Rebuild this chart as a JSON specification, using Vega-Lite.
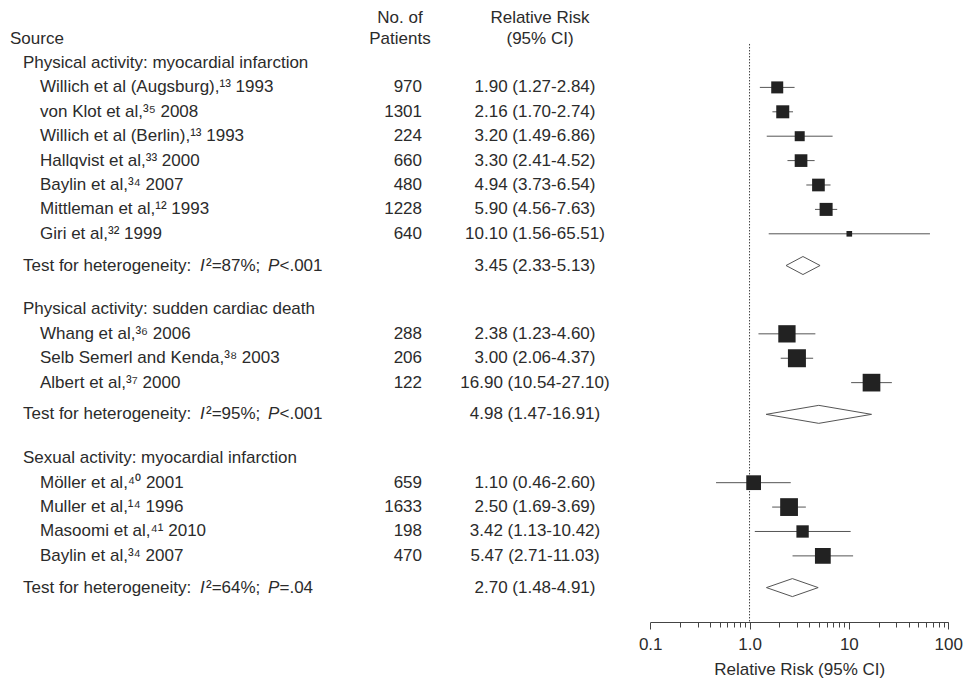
{
  "$schema": "https://vega.github.io/schema/vega-lite/v6.json",
  "width": 967,
  "height": 622,
  "autosize": {"type": "none"},
  "padding": {"left": 0, "top": 0, "right": 0, "bottom": 61},
  "background": "white",
  "config": {
    "view": {"stroke": null},
    "text": {"font": "Liberation Sans", "fontSize": 17, "color": "#2b2b2b"}
  },
  "data": {"values": [
    {"row": 1, "kind": "group", "label": "Physical activity: myocardial infarction"},
    {"row": 2, "kind": "study", "label": "Willich et al (Augsburg),¹³ 1993", "n": 970, "rr": 1.90, "lo": 1.27, "hi": 2.84, "rr_text": "1.90 (1.27-2.84)", "weight": 15.4},
    {"row": 3, "kind": "study", "label": "von Klot et al,³⁵ 2008", "n": 1301, "rr": 2.16, "lo": 1.70, "hi": 2.74, "rr_text": "2.16 (1.70-2.74)", "weight": 18.1},
    {"row": 4, "kind": "study", "label": "Willich et al (Berlin),¹³ 1993", "n": 224, "rr": 3.20, "lo": 1.49, "hi": 6.86, "rr_text": "3.20 (1.49-6.86)", "weight": 10.7},
    {"row": 5, "kind": "study", "label": "Hallqvist et al,³³ 2000", "n": 660, "rr": 3.30, "lo": 2.41, "hi": 4.52, "rr_text": "3.30 (2.41-4.52)", "weight": 17.2},
    {"row": 6, "kind": "study", "label": "Baylin et al,³⁴ 2007", "n": 480, "rr": 4.94, "lo": 3.73, "hi": 6.54, "rr_text": "4.94 (3.73-6.54)", "weight": 17.2},
    {"row": 7, "kind": "study", "label": "Mittleman et al,¹² 1993", "n": 1228, "rr": 5.90, "lo": 4.56, "hi": 7.63, "rr_text": "5.90 (4.56-7.63)", "weight": 18.1},
    {"row": 8, "kind": "study", "label": "Giri et al,³² 1999", "n": 640, "rr": 10.10, "lo": 1.56, "hi": 65.51, "rr_text": "10.10 (1.56-65.51)", "weight": 3.4},
    {"row": 9.3, "kind": "test", "label": "Test for heterogeneity:", "i2": "²=87%;", "p": "<.001", "rr": 3.45, "lo": 2.33, "hi": 5.13, "rr_text": "3.45 (2.33-5.13)"},
    {"row": 11.1, "kind": "group", "label": "Physical activity: sudden cardiac death"},
    {"row": 12.1, "kind": "study", "label": "Whang et al,³⁶ 2006", "n": 288, "rr": 2.38, "lo": 1.23, "hi": 4.60, "rr_text": "2.38 (1.23-4.60)", "weight": 32.0},
    {"row": 13.1, "kind": "study", "label": "Selb Semerl and Kenda,³⁸ 2003", "n": 206, "rr": 3.00, "lo": 2.06, "hi": 4.37, "rr_text": "3.00 (2.06-4.37)", "weight": 34.6},
    {"row": 14.1, "kind": "study", "label": "Albert et al,³⁷ 2000", "n": 122, "rr": 16.90, "lo": 10.54, "hi": 27.10, "rr_text": "16.90 (10.54-27.10)", "weight": 33.4},
    {"row": 15.4, "kind": "test", "label": "Test for heterogeneity:", "i2": "²=95%;", "p": "<.001", "rr": 4.98, "lo": 1.47, "hi": 16.91, "rr_text": "4.98 (1.47-16.91)"},
    {"row": 17.2, "kind": "group", "label": "Sexual activity: myocardial infarction"},
    {"row": 18.2, "kind": "study", "label": "Möller et al,⁴⁰ 2001", "n": 659, "rr": 1.10, "lo": 0.46, "hi": 2.60, "rr_text": "1.10 (0.46-2.60)", "weight": 23.3},
    {"row": 19.2, "kind": "study", "label": "Muller et al,¹⁴ 1996", "n": 1633, "rr": 2.50, "lo": 1.69, "hi": 3.69, "rr_text": "2.50 (1.69-3.69)", "weight": 33.8},
    {"row": 20.2, "kind": "study", "label": "Masoomi et al,⁴¹ 2010", "n": 198, "rr": 3.42, "lo": 1.13, "hi": 10.42, "rr_text": "3.42 (1.13-10.42)", "weight": 16.3},
    {"row": 21.2, "kind": "study", "label": "Baylin et al,³⁴ 2007", "n": 470, "rr": 5.47, "lo": 2.71, "hi": 11.03, "rr_text": "5.47 (2.71-11.03)", "weight": 26.6},
    {"row": 22.5, "kind": "test", "label": "Test for heterogeneity:", "i2": "²=64%;", "p": "=.04", "rr": 2.70, "lo": 1.48, "hi": 4.91, "rr_text": "2.70 (1.48-4.91)"}
  ]},
  "encoding": {
    "y": {"field": "row", "type": "quantitative", "scale": {"domain": [-1.582, 23.91], "reverse": true, "nice": false, "zero": false}, "axis": null}
  },
  "layer": [
    {
      "transform": [{"filter": "datum.row == 1"}],
      "mark": {"type": "rule", "color": "#444", "strokeWidth": 1, "strokeDash": [1.5, 1.5]},
      "encoding": {
        "x": {"datum": 1, "type": "quantitative", "scale": {"type": "log", "domain": [0.1, 100], "range": [650.2, 948.2], "nice": false},
          "axis": {"title": "Relative Risk (95% CI)", "values": [0.1,0.2,0.3,0.4,0.5,0.6,0.7,0.8,0.9,1,2,3,4,5,6,7,8,9,10,20,30,40,50,60,70,80,90,100],
            "labelExpr": "datum.value == 0.1 ? '0.1' : datum.value == 1 ? '1.0' : datum.value == 10 ? '10' : datum.value == 100 ? '100' : ''",
            "tickSize": {"condition": {"test": "indexof([0.1, 1, 10, 100], datum.value) >= 0", "value": 7}, "value": 5},
            "grid": false, "domainColor": "#444", "tickColor": "#444", "labelFlush": false, "labelOverlap": false, "labelBound": false,
            "labelFont": "Liberation Sans", "labelFontSize": 17, "labelColor": "#2b2b2b", "labelPadding": 7,
            "titleFont": "Liberation Sans", "titleFontSize": 17, "titleFontWeight": "normal", "titleColor": "#2b2b2b", "titlePadding": 9}},
        "y": {"datum": 0.22, "type": "quantitative"},
        "y2": {"datum": 23.91}
      }
    },
    {
      "transform": [{"filter": "datum.kind == 'study'"}],
      "mark": {"type": "rule", "color": "#555", "strokeWidth": 1},
      "encoding": {
        "x": {"field": "lo", "type": "quantitative"},
        "x2": {"field": "hi"}
      }
    },
    {
      "transform": [{"filter": "datum.kind == 'study'"}],
      "mark": {"type": "point", "shape": "square", "filled": true, "color": "#222", "opacity": 1},
      "encoding": {
        "x": {"field": "rr", "type": "quantitative"},
        "size": {"field": "weight", "type": "quantitative", "scale": {"type": "linear", "domain": [0, 100], "range": [0, 936], "zero": true}, "legend": null}
      }
    },
    {
      "transform": [{"filter": "datum.kind == 'test'"}],
      "mark": {"type": "rule", "color": "#555", "strokeWidth": 1, "y2Offset": -9},
      "encoding": {"x": {"field": "lo", "type": "quantitative"}, "x2": {"field": "rr"}, "y2": {"field": "row"}}
    },
    {
      "transform": [{"filter": "datum.kind == 'test'"}],
      "mark": {"type": "rule", "color": "#555", "strokeWidth": 1, "y2Offset": 9},
      "encoding": {"x": {"field": "lo", "type": "quantitative"}, "x2": {"field": "rr"}, "y2": {"field": "row"}}
    },
    {
      "transform": [{"filter": "datum.kind == 'test'"}],
      "mark": {"type": "rule", "color": "#555", "strokeWidth": 1, "y2Offset": -9},
      "encoding": {"x": {"field": "hi", "type": "quantitative"}, "x2": {"field": "rr"}, "y2": {"field": "row"}}
    },
    {
      "transform": [{"filter": "datum.kind == 'test'"}],
      "mark": {"type": "rule", "color": "#555", "strokeWidth": 1, "y2Offset": 9},
      "encoding": {"x": {"field": "hi", "type": "quantitative"}, "x2": {"field": "rr"}, "y2": {"field": "row"}}
    },
    {
      "transform": [{"filter": "datum.kind == 'group' || datum.kind == 'test'"}],
      "mark": {"type": "text", "align": "left", "baseline": "middle"},
      "encoding": {"x": {"value": 23}, "text": {"field": "label"}}
    },
    {
      "transform": [{"filter": "datum.kind == 'study'"}],
      "mark": {"type": "text", "align": "left", "baseline": "middle"},
      "encoding": {"x": {"value": 40}, "text": {"field": "label"}}
    },
    {
      "transform": [{"filter": "datum.kind == 'study'"}],
      "mark": {"type": "text", "align": "right", "baseline": "middle"},
      "encoding": {"x": {"value": 422}, "text": {"field": "n", "type": "quantitative", "format": "d"}}
    },
    {
      "transform": [{"filter": "datum.kind == 'study' || datum.kind == 'test'"}],
      "mark": {"type": "text", "align": "center", "baseline": "middle"},
      "encoding": {"x": {"value": 535}, "text": {"field": "rr_text"}}
    },
    {
      "transform": [{"filter": "datum.kind == 'test'"}],
      "mark": {"type": "text", "align": "left", "baseline": "middle", "fontStyle": "italic"},
      "encoding": {"x": {"value": 200}, "text": {"value": "I"}}
    },
    {
      "transform": [{"filter": "datum.kind == 'test'"}],
      "mark": {"type": "text", "align": "left", "baseline": "middle"},
      "encoding": {"x": {"value": 206}, "text": {"field": "i2"}}
    },
    {
      "transform": [{"filter": "datum.kind == 'test'"}],
      "mark": {"type": "text", "align": "left", "baseline": "middle", "fontStyle": "italic"},
      "encoding": {"x": {"value": 268}, "text": {"value": "P"}}
    },
    {
      "transform": [{"filter": "datum.kind == 'test'"}],
      "mark": {"type": "text", "align": "left", "baseline": "middle"},
      "encoding": {"x": {"value": 279.5}, "text": {"field": "p"}}
    },
    {
      "transform": [{"filter": "datum.row == 1"}],
      "mark": {"type": "text", "align": "left", "baseline": "middle"},
      "encoding": {"x": {"value": 10}, "y": {"datum": 0}, "text": {"value": "Source"}}
    },
    {
      "transform": [{"filter": "datum.row == 1"}],
      "mark": {"type": "text", "align": "center", "baseline": "middle"},
      "encoding": {"x": {"value": 400}, "y": {"datum": -0.86}, "text": {"value": "No. of"}}
    },
    {
      "transform": [{"filter": "datum.row == 1"}],
      "mark": {"type": "text", "align": "center", "baseline": "middle"},
      "encoding": {"x": {"value": 400}, "y": {"datum": 0}, "text": {"value": "Patients"}}
    },
    {
      "transform": [{"filter": "datum.row == 1"}],
      "mark": {"type": "text", "align": "center", "baseline": "middle"},
      "encoding": {"x": {"value": 540}, "y": {"datum": -0.86}, "text": {"value": "Relative Risk"}}
    },
    {
      "transform": [{"filter": "datum.row == 1"}],
      "mark": {"type": "text", "align": "center", "baseline": "middle"},
      "encoding": {"x": {"value": 540}, "y": {"datum": 0}, "text": {"value": "(95% CI)"}}
    }
  ]
}
